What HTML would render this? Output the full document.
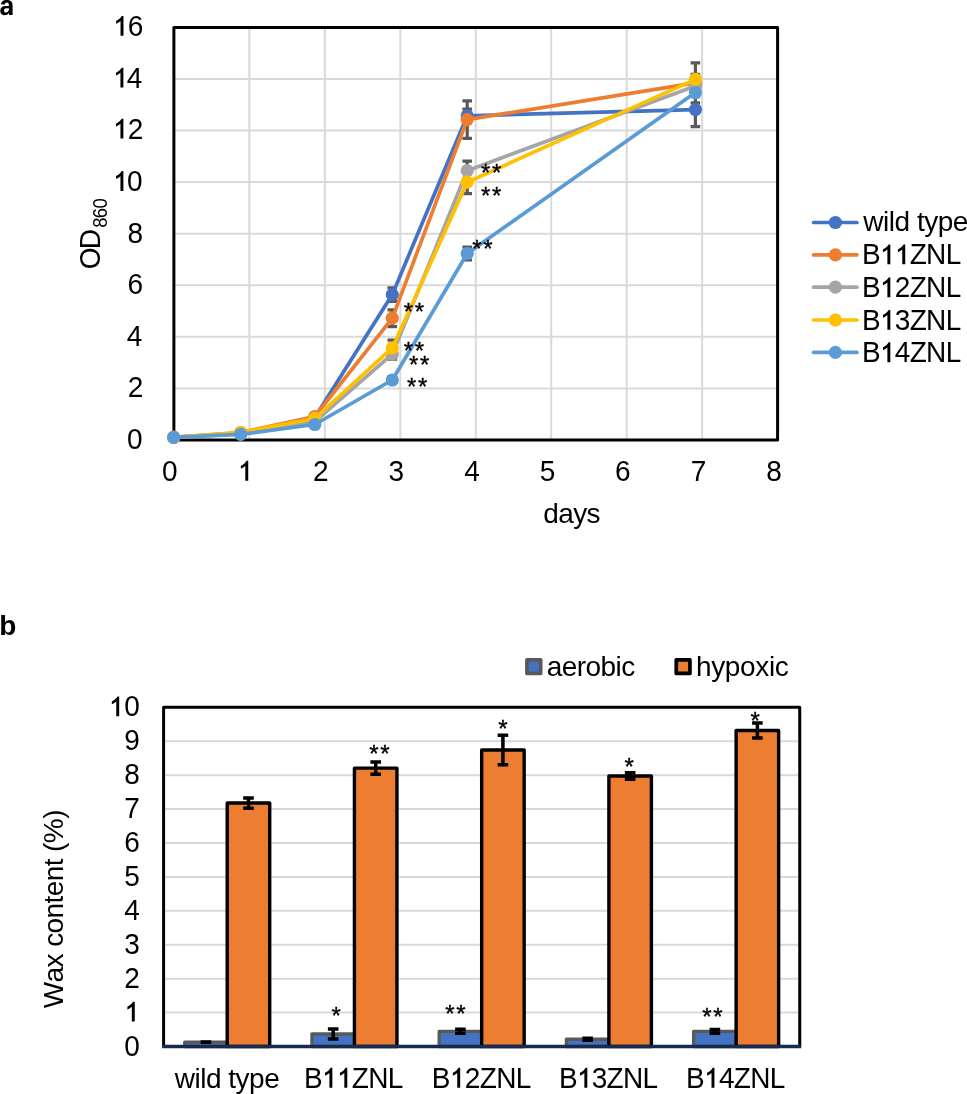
<!DOCTYPE html>
<html><head><meta charset="utf-8"><style>
html,body{margin:0;padding:0;background:#fff;overflow:hidden;}
svg{display:block;will-change:transform;}
text{font-family:"Liberation Sans", sans-serif;fill:#000;font-kerning:none;}
</style></head><body>
<svg width="967" height="1094" viewBox="0 0 967 1094">
<rect width="967" height="1094" fill="#fff"/>
<path d="M249.36 27.40V440.00 M324.83 27.40V440.00 M400.29 27.40V440.00 M475.75 27.40V440.00 M551.21 27.40V440.00 M626.68 27.40V440.00 M702.14 27.40V440.00 M173.90 388.43H777.60 M173.90 336.85H777.60 M173.90 285.27H777.60 M173.90 233.70H777.60 M173.90 182.12H777.60 M173.90 130.55H777.60 M173.90 78.97H777.60" stroke="#d9d9d9" stroke-width="2" fill="none"/>
<rect x="173.9" y="27.4" width="603.70" height="412.60" fill="none" stroke="#000" stroke-width="3" stroke-linejoin="round"/>
<g transform="translate(0 35.83) scale(1 1.03) translate(0 -35.83)"><text x="127.86" y="35.83" font-size="28" font-weight="normal">6</text><path transform="translate(113.05 35.83) scale(0.013672 -0.013672)" d="M763 0L548 0L548 1050Q480 990 400 942Q310 890 223 858L223 1055Q375 1129 489 1226Q590 1320 640 1409L763 1409Z"/></g>
<g transform="translate(0 87.60) scale(1 1.03) translate(0 -87.60)"><text x="126.85" y="87.60" font-size="28" font-weight="normal">4</text><path transform="translate(112.95 87.60) scale(0.013672 -0.013672)" d="M763 0L548 0L548 1050Q480 990 400 942Q310 890 223 858L223 1055Q375 1129 489 1226Q590 1320 640 1409L763 1409Z"/></g>
<g transform="translate(0 138.60) scale(1 1.03) translate(0 -138.60)"><text x="127.74" y="138.60" font-size="28" font-weight="normal">2</text><path transform="translate(112.95 138.60) scale(0.013672 -0.013672)" d="M763 0L548 0L548 1050Q480 990 400 942Q310 890 223 858L223 1055Q375 1129 489 1226Q590 1320 640 1409L763 1409Z"/></g>
<g transform="translate(0 190.93) scale(1 1.03) translate(0 -190.93)"><text x="127.12" y="190.93" font-size="28" font-weight="normal">0</text><path transform="translate(112.95 190.93) scale(0.013672 -0.013672)" d="M763 0L548 0L548 1050Q480 990 400 942Q310 890 223 858L223 1055Q375 1129 489 1226Q590 1320 640 1409L763 1409Z"/></g>
<g transform="translate(0 243.13) scale(1 1.03) translate(0 -243.13)"><text x="127.54" y="243.13" font-size="28" font-weight="normal">8</text></g>
<g transform="translate(0 293.93) scale(1 1.03) translate(0 -293.93)"><text x="127.56" y="293.93" font-size="28" font-weight="normal">6</text></g>
<g transform="translate(0 345.60) scale(1 1.03) translate(0 -345.60)"><text x="126.85" y="345.60" font-size="28" font-weight="normal">4</text></g>
<g transform="translate(0 396.70) scale(1 1.03) translate(0 -396.70)"><text x="127.74" y="396.70" font-size="28" font-weight="normal">2</text></g>
<g transform="translate(0 448.93) scale(1 1.03) translate(0 -448.93)"><text x="127.12" y="448.93" font-size="28" font-weight="normal">0</text></g>
<g transform="translate(0 480.70) scale(1 1.03) translate(0 -480.70)"><text x="162.11" y="480.70" font-size="28" font-weight="normal">0</text></g>
<g transform="translate(0 480.70) scale(1 1.03) translate(0 -480.70)"><path transform="translate(237.81 480.70) scale(0.013672 -0.013672)" d="M763 0L548 0L548 1050Q480 990 400 942Q310 890 223 858L223 1055Q375 1129 489 1226Q590 1320 640 1409L763 1409Z"/></g>
<g transform="translate(0 480.70) scale(1 1.03) translate(0 -480.70)"><text x="313.01" y="480.70" font-size="28" font-weight="normal">2</text></g>
<g transform="translate(0 480.70) scale(1 1.03) translate(0 -480.70)"><text x="388.60" y="480.70" font-size="28" font-weight="normal">3</text></g>
<g transform="translate(0 480.70) scale(1 1.03) translate(0 -480.70)"><text x="464.35" y="480.70" font-size="28" font-weight="normal">4</text></g>
<g transform="translate(0 480.70) scale(1 1.03) translate(0 -480.70)"><text x="539.74" y="480.70" font-size="28" font-weight="normal">5</text></g>
<g transform="translate(0 480.70) scale(1 1.03) translate(0 -480.70)"><text x="615.09" y="480.70" font-size="28" font-weight="normal">6</text></g>
<g transform="translate(0 480.70) scale(1 1.03) translate(0 -480.70)"><text x="690.64" y="480.70" font-size="28" font-weight="normal">7</text></g>
<g transform="translate(0 480.70) scale(1 1.03) translate(0 -480.70)"><text x="766.31" y="480.70" font-size="28" font-weight="normal">8</text></g>
<g transform="translate(0 523.00) scale(1 0.975) translate(0 -523.00)"><text x="543.22 558.21 573.20 586.61" y="523.00" font-size="28" font-weight="normal">days</text></g>
<g transform="translate(100.0 0) rotate(-90) translate(0 0.00) scale(1 1.03) translate(0 -0.00)"><text x="-269.23 -249.38" y="0.00" font-size="28" font-weight="normal">OD</text></g>
<g transform="translate(106.9 0) rotate(-90) translate(0 0.00) scale(1 1.07) translate(0 -0.00)"><text x="-227.80 -218.19 -208.57" y="0.00" font-size="18.5" font-weight="normal">860</text></g>
<path d="M392.30 287.80V301.40M387.50 287.80H397.10M387.50 301.40H397.10M467.20 109.20V122.40M462.40 109.20H472.00M462.40 122.40H472.00M695.40 92.60V126.60M690.60 92.60H700.20M690.60 126.60H700.20M392.30 309.80V326.60M387.50 309.80H397.10M387.50 326.60H397.10M467.20 100.80V138.40M462.40 100.80H472.00M462.40 138.40H472.00M695.40 62.90V102.90M690.60 62.90H700.20M690.60 102.90H700.20M392.30 349.20V359.20M387.50 349.20H397.10M387.50 359.20H397.10M467.20 161.10V180.30M462.40 161.10H472.00M462.40 180.30H472.00M695.40 83.00V89.00M690.60 83.00H700.20M690.60 89.00H700.20M392.30 340.20V355.60M387.50 340.20H397.10M387.50 355.60H397.10M467.20 170.70V193.70M462.40 170.70H472.00M462.40 193.70H472.00M695.40 74.40V84.40M690.60 74.40H700.20M690.60 84.40H700.20M392.30 377.00V383.00M387.50 377.00H397.10M387.50 383.00H397.10M467.20 247.00V260.00M462.40 247.00H472.00M462.40 260.00H472.00M695.40 88.60V96.60M690.60 88.60H700.20M690.60 96.60H700.20" stroke="#595959" stroke-width="3.2" fill="none"/>
<polyline points="173.70,437.30 240.70,433.00 314.80,417.50 392.30,294.60 467.20,115.80 695.40,109.60" fill="none" stroke="#4472C4" stroke-width="3.7" stroke-linejoin="round"/>
<g fill="#4472C4"><circle cx="173.70" cy="437.30" r="6.6"/><circle cx="240.70" cy="433.00" r="6.6"/><circle cx="314.80" cy="417.50" r="6.6"/><circle cx="392.30" cy="294.60" r="6.6"/><circle cx="467.20" cy="115.80" r="6.6"/><circle cx="695.40" cy="109.60" r="6.6"/></g>
<polyline points="173.70,437.30 240.70,432.50 314.80,416.50 392.30,318.20 467.20,119.60 695.40,82.90" fill="none" stroke="#ED7D31" stroke-width="3.7" stroke-linejoin="round"/>
<g fill="#ED7D31"><circle cx="173.70" cy="437.30" r="6.6"/><circle cx="240.70" cy="432.50" r="6.6"/><circle cx="314.80" cy="416.50" r="6.6"/><circle cx="392.30" cy="318.20" r="6.6"/><circle cx="467.20" cy="119.60" r="6.6"/><circle cx="695.40" cy="82.90" r="6.6"/></g>
<polyline points="173.70,437.30 240.70,433.80 314.80,421.50 392.30,354.20 467.20,170.70 695.40,86.00" fill="none" stroke="#A5A5A5" stroke-width="3.7" stroke-linejoin="round"/>
<g fill="#A5A5A5"><circle cx="173.70" cy="437.30" r="6.6"/><circle cx="240.70" cy="433.80" r="6.6"/><circle cx="314.80" cy="421.50" r="6.6"/><circle cx="392.30" cy="354.20" r="6.6"/><circle cx="467.20" cy="170.70" r="6.6"/><circle cx="695.40" cy="86.00" r="6.6"/></g>
<polyline points="173.70,437.30 240.70,432.50 314.80,418.50 392.30,347.90 467.20,182.20 695.40,79.40" fill="none" stroke="#FFC000" stroke-width="3.7" stroke-linejoin="round"/>
<g fill="#FFC000"><circle cx="173.70" cy="437.30" r="6.6"/><circle cx="240.70" cy="432.50" r="6.6"/><circle cx="314.80" cy="418.50" r="6.6"/><circle cx="392.30" cy="347.90" r="6.6"/><circle cx="467.20" cy="182.20" r="6.6"/><circle cx="695.40" cy="79.40" r="6.6"/></g>
<polyline points="173.70,437.30 240.70,434.40 314.80,424.50 392.30,380.00 467.20,253.50 695.40,92.60" fill="none" stroke="#5B9BD5" stroke-width="3.7" stroke-linejoin="round"/>
<g fill="#5B9BD5"><circle cx="173.70" cy="437.30" r="6.6"/><circle cx="240.70" cy="434.40" r="6.6"/><circle cx="314.80" cy="424.50" r="6.6"/><circle cx="392.30" cy="380.00" r="6.6"/><circle cx="467.20" cy="253.50" r="6.6"/><circle cx="695.40" cy="92.60" r="6.6"/></g>
<path d="M813.6 222.50H856.9" stroke="#4472C4" stroke-width="3.7" stroke-linecap="round"/>
<circle cx="835.4" cy="222.50" r="6.6" fill="#4472C4"/>
<g transform="translate(0 230.80) scale(1 0.975) translate(0 -230.80)"><text x="863.34 883.07 888.80 894.53 916.90 924.18 937.69 952.77" y="230.80" font-size="28" font-weight="normal">wildtype</text></g>
<path d="M813.6 254.90H856.9" stroke="#ED7D31" stroke-width="3.7" stroke-linecap="round"/>
<circle cx="835.4" cy="254.90" r="6.6" fill="#ED7D31"/>
<g transform="translate(0 264.30) scale(1 1.03) translate(0 -264.30)"><text x="861.90 909.69 926.11 945.66" y="264.30" font-size="28" font-weight="normal">BZNL</text><path transform="translate(879.90 264.30) scale(0.013672 -0.013672)" d="M763 0L548 0L548 1050Q480 990 400 942Q310 890 223 858L223 1055Q375 1129 489 1226Q590 1320 640 1409L763 1409Z"/><path transform="translate(894.80 264.30) scale(0.013672 -0.013672)" d="M763 0L548 0L548 1050Q480 990 400 942Q310 890 223 858L223 1055Q375 1129 489 1226Q590 1320 640 1409L763 1409Z"/></g>
<path d="M813.6 287.20H856.9" stroke="#A5A5A5" stroke-width="3.7" stroke-linecap="round"/>
<circle cx="835.4" cy="287.20" r="6.6" fill="#A5A5A5"/>
<g transform="translate(0 297.30) scale(1 1.03) translate(0 -297.30)"><text x="861.90 894.80 909.69 926.11 945.66" y="297.30" font-size="28" font-weight="normal">B2ZNL</text><path transform="translate(879.90 297.30) scale(0.013672 -0.013672)" d="M763 0L548 0L548 1050Q480 990 400 942Q310 890 223 858L223 1055Q375 1129 489 1226Q590 1320 640 1409L763 1409Z"/></g>
<path d="M813.6 320.00H856.9" stroke="#FFC000" stroke-width="3.7" stroke-linecap="round"/>
<circle cx="835.4" cy="320.00" r="6.6" fill="#FFC000"/>
<g transform="translate(0 329.80) scale(1 1.03) translate(0 -329.80)"><text x="861.90 894.80 909.69 926.11 945.66" y="329.80" font-size="28" font-weight="normal">B3ZNL</text><path transform="translate(879.90 329.80) scale(0.013672 -0.013672)" d="M763 0L548 0L548 1050Q480 990 400 942Q310 890 223 858L223 1055Q375 1129 489 1226Q590 1320 640 1409L763 1409Z"/></g>
<path d="M813.6 352.30H856.9" stroke="#5B9BD5" stroke-width="3.7" stroke-linecap="round"/>
<circle cx="835.4" cy="352.30" r="6.6" fill="#5B9BD5"/>
<g transform="translate(0 362.20) scale(1 1.03) translate(0 -362.20)"><text x="861.90 894.80 909.69 926.11 945.66" y="362.20" font-size="28" font-weight="normal">B4ZNL</text><path transform="translate(879.90 362.20) scale(0.013672 -0.013672)" d="M763 0L548 0L548 1050Q480 990 400 942Q310 890 223 858L223 1055Q375 1129 489 1226Q590 1320 640 1409L763 1409Z"/></g>
<path transform="translate(-0.55 15.0) scale(0.013125 -0.013672)" d="M393 -20Q236 -20 148.0 65.5Q60 151 60 306Q60 474 169.5 562.0Q279 650 487 652L720 656V711Q720 817 683.0 868.5Q646 920 562 920Q484 920 447.5 884.5Q411 849 402 767L109 781Q136 939 253.5 1020.5Q371 1102 574 1102Q779 1102 890.0 1001.0Q1001 900 1001 714V0H736Q727 45 724 120H716Q612 -20 393 -20ZM720 501 576 499Q478 495 437.0 477.5Q396 460 374.5 424.0Q353 388 353 328Q353 251 388.5 213.5Q424 176 483 176Q549 176 603.5 212.0Q658 248 689.0 311.5Q720 375 720 446Z"/>
<text x="-0.65" y="634.80" font-size="28" font-weight="bold">b</text>
<path d="M163.60 1012.59H799.75 M163.60 978.67H799.75 M163.60 944.75H799.75 M163.60 910.84H799.75 M163.60 876.92H799.75 M163.60 843.01H799.75 M163.60 809.10H799.75 M163.60 775.18H799.75 M163.60 741.26H799.75" stroke="#d9d9d9" stroke-width="2" fill="none"/>
<path d="M163.60 1046.50V707.35H799.75V1046.50" fill="none" stroke="#000" stroke-width="3" stroke-linejoin="round"/>
<g transform="translate(0 1055.52) scale(1 1.03) translate(0 -1055.52)"><text x="124.33" y="1055.52" font-size="28" font-weight="normal">0</text></g>
<g transform="translate(0 1021.61) scale(1 1.03) translate(0 -1021.61)"><path transform="translate(124.33 1021.61) scale(0.013672 -0.013672)" d="M763 0L548 0L548 1050Q480 990 400 942Q310 890 223 858L223 1055Q375 1129 489 1226Q590 1320 640 1409L763 1409Z"/></g>
<g transform="translate(0 987.69) scale(1 1.03) translate(0 -987.69)"><text x="124.33" y="987.69" font-size="28" font-weight="normal">2</text></g>
<g transform="translate(0 953.78) scale(1 1.03) translate(0 -953.78)"><text x="124.33" y="953.78" font-size="28" font-weight="normal">3</text></g>
<g transform="translate(0 919.86) scale(1 1.03) translate(0 -919.86)"><text x="124.33" y="919.86" font-size="28" font-weight="normal">4</text></g>
<g transform="translate(0 885.95) scale(1 1.03) translate(0 -885.95)"><text x="124.33" y="885.95" font-size="28" font-weight="normal">5</text></g>
<g transform="translate(0 852.03) scale(1 1.03) translate(0 -852.03)"><text x="124.33" y="852.03" font-size="28" font-weight="normal">6</text></g>
<g transform="translate(0 818.12) scale(1 1.03) translate(0 -818.12)"><text x="124.33" y="818.12" font-size="28" font-weight="normal">7</text></g>
<g transform="translate(0 784.20) scale(1 1.03) translate(0 -784.20)"><text x="124.33" y="784.20" font-size="28" font-weight="normal">8</text></g>
<g transform="translate(0 750.29) scale(1 1.03) translate(0 -750.29)"><text x="124.33" y="750.29" font-size="28" font-weight="normal">9</text></g>
<g transform="translate(0 716.37) scale(1 1.03) translate(0 -716.37)"><text x="124.33" y="716.37" font-size="28" font-weight="normal">0</text><path transform="translate(108.76 716.37) scale(0.013672 -0.013672)" d="M763 0L548 0L548 1050Q480 990 400 942Q310 890 223 858L223 1055Q375 1129 489 1226Q590 1320 640 1409L763 1409Z"/></g>
<rect x="184.71" y="1042.19" width="42.50" height="4.31" fill="#4472C4" stroke="#595959" stroke-width="3.3" stroke-linejoin="round"/>
<rect x="227.21" y="803.06" width="42.50" height="243.44" fill="#ED7D31" stroke="#000" stroke-width="3.4" stroke-linejoin="round"/>
<rect x="311.94" y="1033.99" width="42.50" height="12.51" fill="#4472C4" stroke="#595959" stroke-width="3.3" stroke-linejoin="round"/>
<rect x="354.44" y="768.16" width="42.50" height="278.34" fill="#ED7D31" stroke="#000" stroke-width="3.4" stroke-linejoin="round"/>
<rect x="439.17" y="1031.31" width="42.50" height="15.19" fill="#4472C4" stroke="#595959" stroke-width="3.3" stroke-linejoin="round"/>
<rect x="481.67" y="750.05" width="42.50" height="296.45" fill="#ED7D31" stroke="#000" stroke-width="3.4" stroke-linejoin="round"/>
<rect x="566.40" y="1039.24" width="42.50" height="7.26" fill="#4472C4" stroke="#595959" stroke-width="3.3" stroke-linejoin="round"/>
<rect x="608.90" y="775.96" width="42.50" height="270.54" fill="#ED7D31" stroke="#000" stroke-width="3.4" stroke-linejoin="round"/>
<rect x="693.63" y="1031.31" width="42.50" height="15.19" fill="#4472C4" stroke="#595959" stroke-width="3.3" stroke-linejoin="round"/>
<rect x="736.13" y="730.51" width="42.50" height="315.99" fill="#ED7D31" stroke="#000" stroke-width="3.4" stroke-linejoin="round"/>
<path d="M205.96 1042.02V1042.36M200.66 1042.02H211.26M200.66 1042.36H211.26M248.46 797.90V808.21M243.16 797.90H253.76M243.16 808.21H253.76M333.19 1029.00V1038.97M327.89 1029.00H338.49M327.89 1038.97H338.49M375.69 762.02V774.30M370.39 762.02H380.99M370.39 774.30H380.99M460.42 1029.27V1033.34M455.12 1029.27H465.72M455.12 1033.34H465.72M502.92 735.30V764.80M497.62 735.30H508.22M497.62 764.80H508.22M587.65 1038.16V1040.33M582.36 1038.16H592.95M582.36 1040.33H592.95M630.15 772.77V779.15M624.86 772.77H635.45M624.86 779.15H635.45M714.88 1029.44V1033.17M709.59 1029.44H720.18M709.59 1033.17H720.18M757.38 723.12V737.91M752.09 723.12H762.68M752.09 737.91H762.68" stroke="#000" stroke-width="3.5" fill="none"/>
<path d="M162.10 1046.50H801.25" stroke="#172a50" stroke-width="3.3"/>
<g transform="translate(0 1087.70) scale(1 0.975) translate(0 -1087.70)"><text x="174.74 194.47 200.20 205.93 228.30 235.58 249.09 264.17" y="1087.70" font-size="28" font-weight="normal">wildtype</text></g>
<g transform="translate(0 1087.70) scale(1 1.03) translate(0 -1087.70)"><text x="303.90 351.75 368.19 387.76" y="1087.70" font-size="28" font-weight="normal">BZNL</text><path transform="translate(321.92 1087.70) scale(0.013672 -0.013672)" d="M763 0L548 0L548 1050Q480 990 400 942Q310 890 223 858L223 1055Q375 1129 489 1226Q590 1320 640 1409L763 1409Z"/><path transform="translate(336.84 1087.70) scale(0.013672 -0.013672)" d="M763 0L548 0L548 1050Q480 990 400 942Q310 890 223 858L223 1055Q375 1129 489 1226Q590 1320 640 1409L763 1409Z"/></g>
<g transform="translate(0 1087.70) scale(1 1.03) translate(0 -1087.70)"><text x="431.70 464.72 479.67 496.15 515.76" y="1087.70" font-size="28" font-weight="normal">B2ZNL</text><path transform="translate(449.76 1087.70) scale(0.013672 -0.013672)" d="M763 0L548 0L548 1050Q480 990 400 942Q310 890 223 858L223 1055Q375 1129 489 1226Q590 1320 640 1409L763 1409Z"/></g>
<g transform="translate(0 1087.70) scale(1 1.03) translate(0 -1087.70)"><text x="558.90 591.76 606.63 623.03 642.56" y="1087.70" font-size="28" font-weight="normal">B3ZNL</text><path transform="translate(576.88 1087.70) scale(0.013672 -0.013672)" d="M763 0L548 0L548 1050Q480 990 400 942Q310 890 223 858L223 1055Q375 1129 489 1226Q590 1320 640 1409L763 1409Z"/></g>
<g transform="translate(0 1087.70) scale(1 1.03) translate(0 -1087.70)"><text x="686.00 718.94 733.85 750.29 769.86" y="1087.70" font-size="28" font-weight="normal">B4ZNL</text><path transform="translate(704.02 1087.70) scale(0.013672 -0.013672)" d="M763 0L548 0L548 1050Q480 990 400 942Q310 890 223 858L223 1055Q375 1129 489 1226Q590 1320 640 1409L763 1409Z"/></g>
<rect x="526.95" y="659.9" width="13.7" height="13.55" fill="#4472C4" stroke="#595959" stroke-width="3.7" stroke-linejoin="round"/>
<g transform="translate(0 675.60) scale(1 0.975) translate(0 -675.60)"><text x="546.71 561.73 576.75 585.53 600.55 615.57 621.24" y="675.60" font-size="28" font-weight="normal">aerobic</text></g>
<rect x="676.25" y="659.9" width="13.7" height="13.55" fill="#ED7D31" stroke="#000" stroke-width="3.7" stroke-linejoin="round"/>
<g transform="translate(0 675.60) scale(1 0.975) translate(0 -675.60)"><text x="695.96 711.17 724.81 740.02 755.24 768.88 774.74" y="675.60" font-size="28" font-weight="normal">hypoxic</text></g>
<g transform="translate(62.8 0) rotate(-90) translate(0 0.00) scale(1 0.975) translate(0 -0.00)"><text x="-1008.32 -982.48 -967.49 -946.88 -933.47 -918.48 -903.50 -896.30 -881.31 -866.33 -851.94 -843.20 -818.89" y="0.00" font-size="28" font-weight="normal">Waxcontent(%)</text></g>
<g font-size="24" letter-spacing="1.66" stroke="#000" stroke-width="0.35"><text x="403.71" y="319.81">**</text><text x="403.71" y="359.01">**</text><text x="409.01" y="373.31">**</text><text x="407.01" y="394.71">**</text><text x="480.91" y="180.51">**</text><text x="480.91" y="204.11">**</text><text x="472.31" y="256.61">**</text><text x="369.21" y="762.31">**</text><text x="498.31" y="737.41">*</text><text x="624.41" y="774.51">*</text><text x="750.51" y="728.71">*</text><text x="331.41" y="1024.31">*</text><text x="445.31" y="1021.61">**</text><text x="702.21" y="1025.31">**</text></g>
</svg></body></html>
